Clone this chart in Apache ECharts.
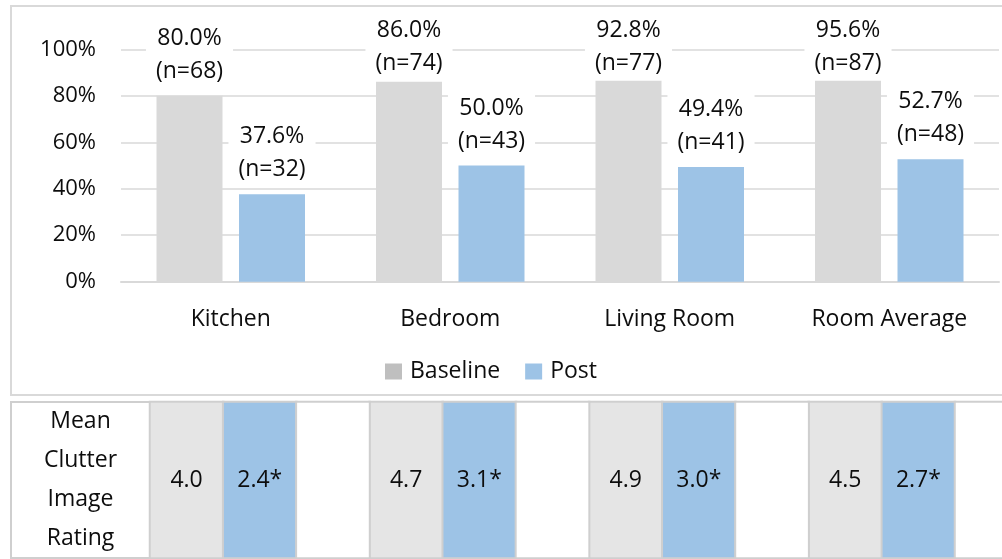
<!DOCTYPE html>
<html>
<head>
<meta charset="utf-8">
<script src="https://cdn.jsdelivr.net/npm/echarts@6/dist/echarts.min.js"></script>
<style>
  html, body { margin: 0; padding: 0; background: #fff; }
  #chart { width: 1002px; height: 559px; }
</style>
</head>
<body>
<div id="chart"></div>
<script>
// ---- data ----
const categories = ['Kitchen', 'Bedroom', 'Living Room', 'Room Average'];
const seriesNames = ['Baseline', 'Post'];
const baselinePct = [80.0, 86.0, 92.8, 95.6];
const postPct = [37.6, 50.0, 49.4, 52.7];
const baselineN = [68, 74, 77, 87];
const postN = [32, 43, 41, 48];
const yMin = 0, yMax = 100, yStep = 20;
const tableRowLabel = 'Mean\nClutter\nImage\nRating';
const baselineRating = [4.0, 4.7, 4.9, 4.5];
const postRating = [2.4, 3.1, 3.0, 2.7];
const postRatingMark = ['*', '*', '*', '*'];

// ---- styles ----
const FONT = 'Open Sans';
const TEXT = '#0d0d0d';
const GRAY = '#d9d9d9';
const BLUE = '#9dc3e6';
const CELL_GRAY = '#e5e5e5';
const BORDER = '#cfcfcf';

// table columns: per category -> baseline, post, spacer
const tableCols = [];
categories.forEach(c => { tableCols.push(c + '|B', c + '|P', c + '|gap'); });
const baseCells = baselineRating.map((v, i) => [i * 3, 0, v]);
const postCells = postRating.map((v, i) => [i * 3 + 1, 0, v]);
const gapCells = categories.map((c, i) => [i * 3 + 2, 0, 0]);

const chart = echarts.init(document.getElementById('chart'), null, { renderer: 'canvas' });

// keep value labels inside the plot frame (clamped at the top)
const clampLayout = function (p) {
  const minY = 11.7;
  if (p.labelRect.y < minY) return { dy: minY - p.labelRect.y };
  return {};
};

const barLabel = (nArr) => ({
  show: true,
  position: 'top',
  distance: 7,
  fontFamily: FONT,
  fontSize: 23,
  lineHeight: 33,
  color: TEXT,
  backgroundColor: '#ffffff',
  padding: [2, 10, 1, 10],
  formatter: p => p.value.toFixed(1) + '%\n(n=' + nArr[p.dataIndex] + ')'
});

chart.setOption({
  animation: false,
  backgroundColor: '#ffffff',
  textStyle: { fontFamily: FONT },
  graphic: [
    { type: 'rect', z: -10, shape: { x: 11, y: 6, width: 1010, height: 389 },
      style: { fill: 'none', stroke: GRAY, lineWidth: 2 } },
    { type: 'rect', z: -10, shape: { x: 11, y: 402, width: 139, height: 156 },
      style: { fill: '#fff', stroke: BORDER, lineWidth: 2 } }
  ],
  legend: {
    left: 380, top: 355,
    itemWidth: 17, itemHeight: 16, itemGap: 25,
    icon: 'rect',
    textStyle: { fontFamily: FONT, fontSize: 23, color: TEXT, padding: [0, 0, 0, 3] },
    data: [
      { name: 'Baseline', itemStyle: { color: '#bfbfbf' } },
      { name: 'Post', itemStyle: { color: BLUE } }
    ]
  },
  grid: [
    { left: 121, width: 878, top: 49.3, height: 232.4, outerBoundsMode: 'none' },
    { left: 150, width: 878.2, top: 402, height: 156, outerBoundsMode: 'none' }
  ],
  xAxis: [
    {
      type: 'category', gridIndex: 0, data: categories,
      axisLine: { lineStyle: { color: GRAY, width: 2 } },
      axisTick: { show: false },
      axisLabel: { fontFamily: FONT, fontSize: 23, color: TEXT, margin: 26 }
    },
    {
      type: 'category', gridIndex: 1, data: tableCols, show: false
    }
  ],
  yAxis: [
    {
      type: 'value', gridIndex: 0, min: yMin, max: yMax, interval: yStep,
      axisLine: { show: false }, axisTick: { show: false },
      splitLine: { lineStyle: { color: GRAY, width: 1.5 } },
      axisLabel: { fontFamily: FONT, fontSize: 22, color: TEXT, margin: 25, formatter: '{value}%' }
    },
    {
      type: 'category', gridIndex: 1, data: [tableRowLabel],
      axisLine: { show: false }, axisTick: { show: false }, splitLine: { show: false },
      axisLabel: { fontFamily: FONT, fontSize: 23, color: TEXT, align: 'center',
        margin: 69.5, lineHeight: 38.7, padding: [11, 0, 0, 0] }
    }
  ],
  series: [
    {
      name: seriesNames[0], type: 'bar', xAxisIndex: 0, yAxisIndex: 0,
      data: baselinePct, barWidth: 66, barGap: '25%',
      itemStyle: { color: GRAY },
      label: barLabel(baselineN),
      labelLayout: clampLayout
    },
    {
      name: seriesNames[1], type: 'bar', xAxisIndex: 0, yAxisIndex: 0,
      data: postPct, barWidth: 66, barGap: '25%',
      itemStyle: { color: BLUE },
      label: barLabel(postN),
      labelLayout: clampLayout
    },
    {
      name: 'tBase', type: 'heatmap', xAxisIndex: 1, yAxisIndex: 1,
      data: baseCells,
      itemStyle: { color: CELL_GRAY, borderColor: BORDER, borderWidth: 2 },
      label: { show: true, fontFamily: FONT, fontSize: 23, color: TEXT,
        formatter: p => p.value[2].toFixed(1) },
      emphasis: { disabled: true }
    },
    {
      name: 'tPost', type: 'heatmap', xAxisIndex: 1, yAxisIndex: 1,
      data: postCells,
      itemStyle: { color: BLUE, borderColor: BORDER, borderWidth: 2 },
      label: { show: true, fontFamily: FONT, fontSize: 23, color: TEXT,
        formatter: p => p.value[2].toFixed(1) + postRatingMark[p.dataIndex] },
      emphasis: { disabled: true }
    },
    {
      name: 'tGap', type: 'heatmap', xAxisIndex: 1, yAxisIndex: 1,
      data: gapCells,
      itemStyle: { color: '#ffffff', borderColor: BORDER, borderWidth: 2 },
      label: { show: false },
      emphasis: { disabled: true }
    }
  ]
});
</script>
</body>
</html>
